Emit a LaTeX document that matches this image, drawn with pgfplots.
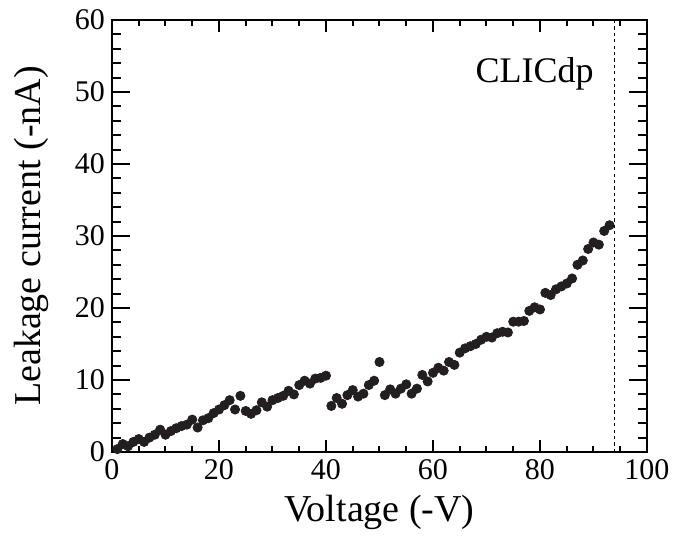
\documentclass[border=0pt]{standalone}
\usepackage{pgfplots}
\usepackage{fontspec}
\setmainfont{Liberation Serif}
\pgfplotsset{compat=1.18}
\definecolor{dotcol}{HTML}{231F20}

\begin{document}
\begin{tikzpicture}
\begin{axis}[
  scale only axis,
  width=267.5pt,height=216pt,
  xmin=0,xmax=100,ymin=0,ymax=60,
  xtick={0,20,...,100},ytick={0,10,...,60},
  minor x tick num=3,minor y tick num=4,
  tick align=inside,
  xtick pos=both,ytick pos=both,
  axis line style={line width=1.2pt},
  every tick/.style={line width=1pt,black},
  x tick style={/pgfplots/major tick length=6pt,/pgfplots/minor tick length=3pt},
  y tick style={/pgfplots/major tick length=9pt,/pgfplots/minor tick length=4.5pt},
  /pgf/number format/assume math mode=true,
  tick label style={font=\fontsize{15}{17}\selectfont},
  xlabel={Voltage (-V)},ylabel={Leakage current (-nA)},
  label style={font=\fontsize{19}{21}\selectfont},
  xlabel style={at={(axis description cs:0.5,-0.139)},anchor=center},
  ylabel style={at={(axis description cs:-0.15,0.5)},anchor=center},
  clip=false
]
\addplot[only marks,mark=*,mark size=2.3pt,color=dotcol] coordinates {
(1,0.4) (2,1.1) (3,0.8) (4,1.4) (5,1.8) (6,1.4) (7,2.0) (8,2.4) (9,3.1) (10,2.4)
(11,2.9) (12,3.3) (13,3.6) (14,3.8) (15,4.5) (16,3.4) (17,4.4) (18,4.7) (19,5.4) (20,5.9)
(21,6.5) (22,7.2) (23,5.9) (24,7.8) (25,5.7) (26,5.3) (27,5.8) (28,6.9) (29,6.3) (30,7.2)
(31,7.5) (32,7.8) (33,8.5) (34,8.0) (35,9.3) (36,9.9) (37,9.5) (38,10.2) (39,10.3) (40,10.6)
(41,6.4) (42,7.5) (43,6.7) (44,7.9) (45,8.6) (46,7.7) (47,8.1) (48,9.3) (49,9.9) (50,12.5)
(51,7.9) (52,8.7) (53,8.1) (54,8.8) (55,9.4) (56,8.1) (57,8.8) (58,10.7) (59,9.8) (60,11.0)
(61,11.7) (62,11.3) (63,12.5) (64,12.1) (65,13.8) (66,14.4) (67,14.7) (68,15.0) (69,15.6) (70,16.0)
(71,15.9) (72,16.5) (73,16.7) (74,16.6) (75,18.1) (76,18.1) (77,18.2) (78,19.6) (79,20.1) (80,19.8)
(81,22.1) (82,21.8) (83,22.6) (84,23.0) (85,23.4) (86,24.1) (87,26.0) (88,26.6) (89,28.2) (90,29.1)
(91,28.8) (92,30.7) (93,31.5)
};
\draw[line width=0.8pt,dash pattern=on 1.6pt off 1.6pt] (axis cs:93.9,0) -- (axis cs:93.9,60);
\node[font=\fontsize{18}{20}\selectfont] at (axis cs:79,52.5) {CLICdp};
\end{axis}
\path[use as bounding box] (-56pt,-39.5pt) rectangle (285pt,226pt);
\end{tikzpicture}
\end{document}
